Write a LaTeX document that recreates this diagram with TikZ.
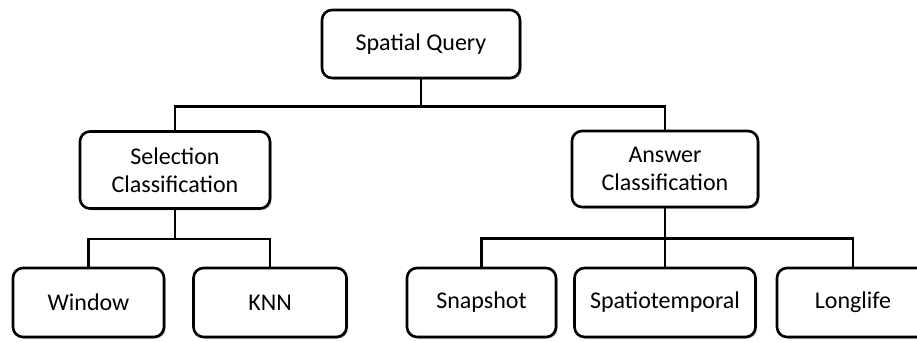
\documentclass[tikz,border=0pt]{standalone}
\usepackage{fontspec}
\setmainfont{Carlito}
\usetikzlibrary{shadows}
\begin{document}
\begin{tikzpicture}[x=1pt,y=-1pt,
  box/.style={draw=black, line width=2.6pt, rounded corners=10pt, fill=white,
    align=center, inner sep=0pt, font=\fontsize{24}{28.5}\selectfont,
    drop shadow={shadow xshift=1.5pt, shadow yshift=-1.5pt, opacity=0.35, fill=black}},
  link/.style={draw=black, line width=2.5pt}]
\useasboundingbox (0,0) rectangle (917,341);
\clip (0,0) rectangle (917,341);
\node[box, minimum width=198pt, minimum height=68pt] (top) at (421,44) {Spatial Query};
\node[box, minimum width=190pt, minimum height=77pt] (sel) at (175,170) {Selection\\Classification};
\node[box, minimum width=186pt, minimum height=76pt] (ans) at (665,169) {Answer\\Classification};
\node[box, minimum width=151pt, minimum height=69pt] (win) at (88.5,302.5) {Window};
\node[box, minimum width=153pt, minimum height=69pt] (knn) at (270,302.5) {KNN};
\node[box, minimum width=149pt, minimum height=69pt] (snap) at (481.5,302.5) {Snapshot};
\node[box, minimum width=181pt, minimum height=69pt] (spt) at (665,302.5) {Spatiotemporal};
\node[box, minimum width=152pt, minimum height=69pt] (long) at (853,302.5) {Longlife};
\path[link] (top.south) -- ++(0,27) -| (sel.north);
\path[link] (top.south) -- ++(0,27) -| (ans.north);
\path[link] (sel.south) -- ++(0,29) -| (win.north);
\path[link] (sel.south) -- ++(0,29) -| (knn.north);
\path[link] (ans.south) -- ++(0,30) -| (snap.north);
\path[link] (ans.south) -- (spt.north);
\path[link] (ans.south) -- ++(0,30) -| (long.north);
\end{tikzpicture}
\end{document}
